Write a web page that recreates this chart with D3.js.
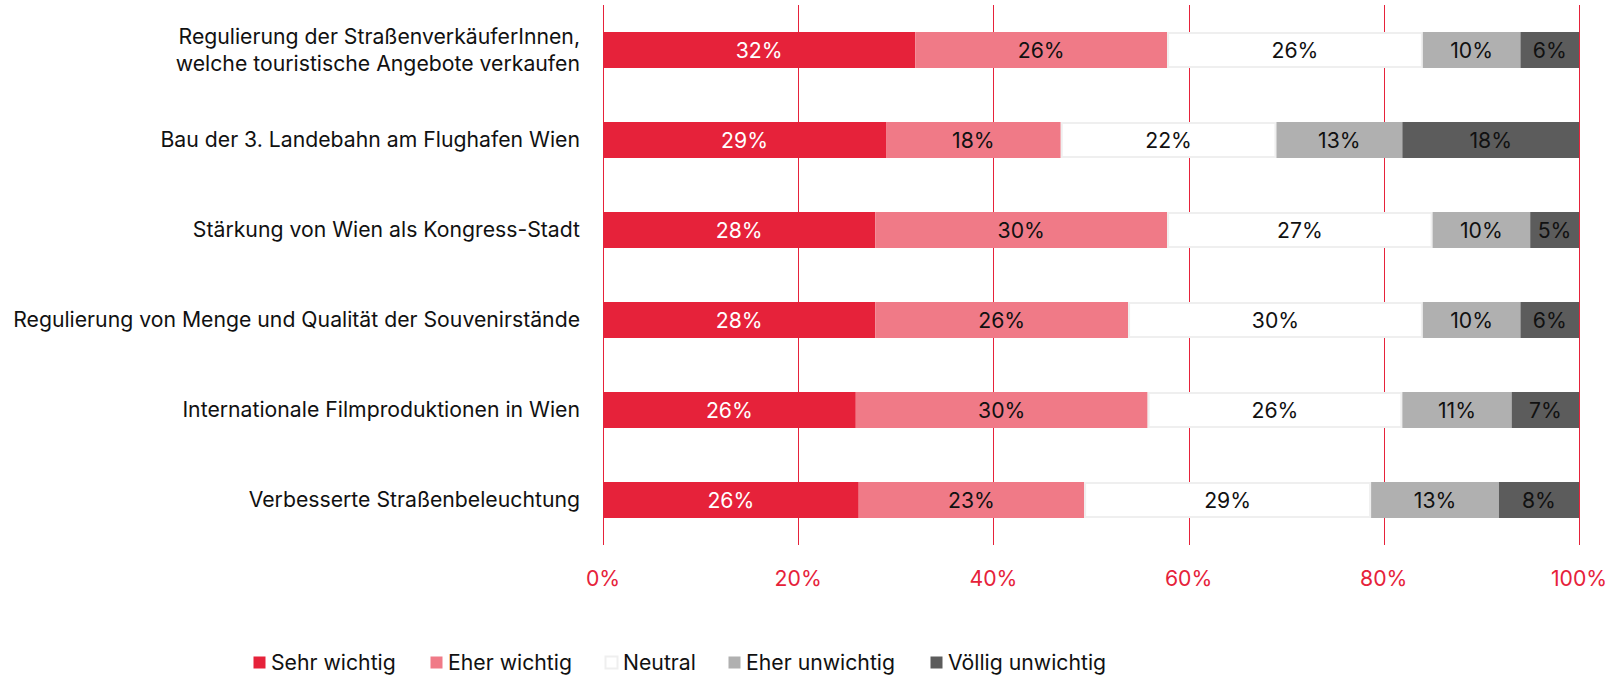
<!DOCTYPE html>
<html lang="de">
<head>
<meta charset="utf-8">
<title>Wichtigkeit</title>
<script src="https://cdn.jsdelivr.net/npm/d3@7"></script>
<style>
  body { margin: 0; background: #fff; }
  svg text { font-family: Inter, Roboto, "Noto Sans", sans-serif; }
</style>
</head>
<body>
<script>
// data ---------------------------------------------------------------
var categories = [
  ["Regulierung der StraßenverkäuferInnen,", "welche touristische Angebote verkaufen"],
  ["Bau der 3. Landebahn am Flughafen Wien"],
  ["Stärkung von Wien als Kongress-Stadt"],
  ["Regulierung von Menge und Qualität der Souvenirstände"],
  ["Internationale Filmproduktionen in Wien"],
  ["Verbesserte Straßenbeleuchtung"]
];
var seriesNames = ["Sehr wichtig", "Eher wichtig", "Neutral", "Eher unwichtig", "Völlig unwichtig"];
var sehrWichtig    = [32.0, 29.0, 27.9, 27.9, 25.9, 26.2];
var eherWichtig    = [25.8, 17.9, 29.9, 25.9, 29.9, 23.1];
var neutral        = [26.2, 22.1, 27.2, 30.2, 26.1, 29.4];
var eherUnwichtig  = [10.0, 12.9, 10.0, 10.0, 11.2, 13.1];
var voelligUnwichtig = [6.0, 18.1, 5.0, 6.0, 6.9, 8.2];
var tickValues = [0, 20, 40, 60, 80, 100];

var colors = ["#e6223a", "#f07a87", "#ffffff", "#b0b0b0", "#5c5c5c"];
var textColors = ["#ffffff", "#111", "#111", "#111", "#111"];

// layout -------------------------------------------------------------
var W = 1610, H = 676;
var x0 = 603, x1 = 1579;

var svg = d3.select("body").append("svg")
    .attr("width", W).attr("height", H);

// pick a font size so the longest label spans like in the original
var probe = svg.append("text").attr("font-size", 20).text(categories[3][0]);
var fs = Math.min(22, 20 * 567 / probe.node().getComputedTextLength());
probe.remove();

var x = d3.scaleLinear().domain([0, 100]).range([x0, x1]);
var y = d3.scaleBand().domain(d3.range(categories.length))
    .range([5, 545]).paddingInner(0.6).paddingOuter(0.3);

// stacked data
var rows = categories.map(function(c, i) {
  var r = {};
  r[seriesNames[0]] = sehrWichtig[i];
  r[seriesNames[1]] = eherWichtig[i];
  r[seriesNames[2]] = neutral[i];
  r[seriesNames[3]] = eherUnwichtig[i];
  r[seriesNames[4]] = voelligUnwichtig[i];
  return r;
});
var stack = d3.stack().keys(seriesNames)(rows);

// grid lines
svg.append("g").selectAll("line").data(tickValues).join("line")
  .attr("x1", d => Math.round(x(d)) + 0.5)
  .attr("x2", d => Math.round(x(d)) + 0.5)
  .attr("y1", 5).attr("y2", 545)
  .attr("stroke", "#e6223a").attr("stroke-width", 1);

// axis labels
svg.append("g").selectAll("text").data(tickValues).join("text")
  .attr("x", d => x(d))
  .attr("y", 578)
  .attr("dy", "0.36em")
  .attr("text-anchor", "middle")
  .attr("fill", "#e6223a")
  .attr("font-size", fs)
  .text(d => d + "%");

// bars
var layer = svg.append("g").selectAll("g").data(stack).join("g");

layer.selectAll("rect").data(function(s, k) { return s.map(d => ({d: d, k: k})); }).join("rect")
  .attr("x", o => x(o.d[0]) + (o.k === 2 ? 1 : 0))
  .attr("y", (o, i) => y(i) + (o.k === 2 ? 1 : 0))
  .attr("width", o => x(o.d[1]) - x(o.d[0]) - (o.k === 2 ? 2 : 0))
  .attr("height", o => y.bandwidth() - (o.k === 2 ? 2 : 0))
  .attr("fill", o => colors[o.k])
  .attr("stroke", o => o.k === 2 ? "#efefef" : "none")
  .attr("stroke-width", 2);

layer.selectAll("text").data(function(s, k) { return s.map(d => ({d: d, k: k})); }).join("text")
  .attr("x", o => (x(o.d[0]) + x(o.d[1])) / 2)
  .attr("y", (o, i) => y(i) + y.bandwidth() / 2)
  .attr("dy", "0.36em")
  .attr("text-anchor", "middle")
  .attr("font-size", fs)
  .attr("fill", o => textColors[o.k])
  .text(o => Math.round(o.d[1] - o.d[0]) + "%");

// category labels
var lab = svg.append("g").selectAll("text").data(categories).join("text")
  .attr("text-anchor", "end")
  .attr("font-size", fs)
  .attr("fill", "#111")
  .attr("y", (c, i) => y(i) + y.bandwidth() / 2);
lab.each(function(c) {
  var t = d3.select(this);
  var n = c.length;
  c.forEach(function(line, j) {
    t.append("tspan")
      .attr("x", 580)
      .attr("dy", j === 0 ? ((-(n - 1) * 27 / 2) + 7) : 27)
      .text(line);
  });
});

// legend
var legendX = [253, 430, 605, 728, 930];
var leg = svg.append("g").selectAll("g").data(seriesNames).join("g")
  .attr("transform", (d, i) => "translate(" + legendX[i] + ",656)");
leg.append("rect")
  .attr("x", 0.5).attr("y", 0.5)
  .attr("width", 12).attr("height", 12)
  .attr("fill", (d, i) => colors[i])
  .attr("stroke", (d, i) => i === 2 ? "#efefef" : "none")
  .attr("stroke-width", 2);
leg.append("text")
  .attr("x", 18).attr("y", 6.5)
  .attr("dy", "0.36em")
  .attr("font-size", fs)
  .attr("fill", "#111")
  .text(d => d);
</script>
</body>
</html>
